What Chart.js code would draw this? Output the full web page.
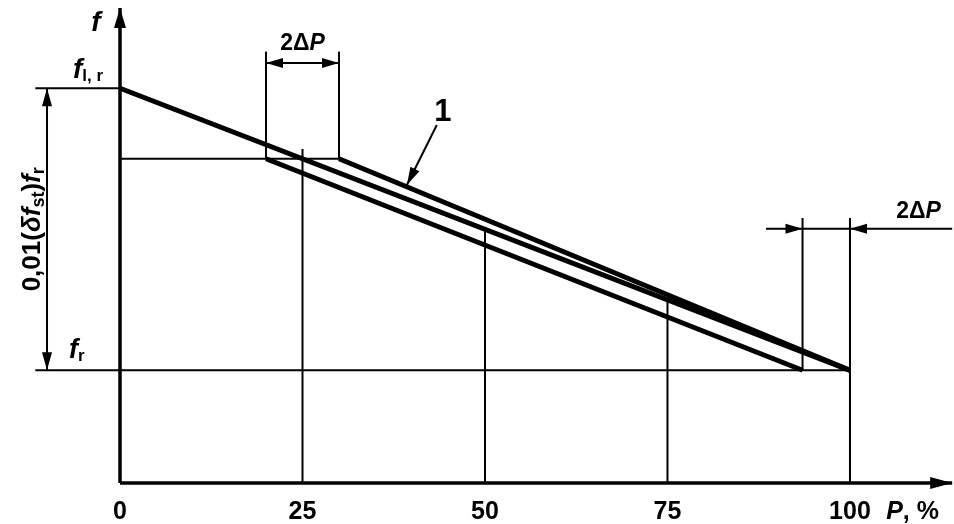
<!DOCTYPE html>
<html>
<head>
<meta charset="utf-8">
<script src="https://cdn.jsdelivr.net/npm/chart.js@4.4.1/dist/chart.umd.min.js"></script>
<style>
  html, body { margin: 0; padding: 0; background: #fff; }
  #wrap { width: 954px; height: 524px; }
</style>
</head>
<body>
<div id="wrap"><canvas id="droopChart" width="954" height="524"></canvas></div>
<script>
// frequency levels on the f axis (arbitrary units)
const fRated = 4;       // f_r
const fNoLoad = 14;     // f_l,r
const fQuarter = 11.5;  // f at 25 % load
const fTop = 16.85;     // end of f axis
const pEnd = 114;       // end of P axis

// P axis ticks
const pTicks = [0, 25, 50, 75, 100];
const pTickLabels = ["0", "25", "50", "75", "100"];

// characteristic lines
const droopP = [0, 100];
const droopF = [fNoLoad, fRated];
const upperP = [30, 100];
const upperF = [fQuarter, fRated];
const lowerP = [20, 93.5];
const lowerF = [fQuarter, fRated];

// vertical guide lines from the P axis up to the characteristic
const guideP = [25, 50, 75, 100];
const guideTopF = [11.85, 9, 6.5, 9.4];

// dimension lines
const leftDimP = -10;
const leftLineStartP = -11.6;
const bandTopP = [20, 30];
const bandTopF = 15.3;
const bandTopArrowF = 14.9;
const bandRightP = [93.5, 100];
const bandRightF = 9.4;
const bandRightArrowF = 9.02;
const bandRightArrowFromP = 88.5;
const leaderFrom = [43.4, 12.7];
const leaderTo = [39.3, 10.57];

const seg = (x1, y1, x2, y2) => [{ x: x1, y: y1 }, { x: x2, y: y2 }];

const thick = [
  seg(droopP[0], droopF[0], droopP[1], droopF[1]),
  seg(upperP[0], upperF[0], upperP[1], upperF[1]),
  seg(lowerP[0], lowerF[0], lowerP[1], lowerF[1])
];
const axes = [
  seg(0, 0, pEnd, 0),
  seg(0, 0, 0, fTop)
];
const thin = [
  seg(0, fQuarter, bandTopP[1], fQuarter),
  seg(leftLineStartP, fRated, 100, fRated),
  seg(leftLineStartP, fNoLoad, 0, fNoLoad),
  seg(leftDimP, fRated, leftDimP, fNoLoad),
  seg(bandTopP[0], fQuarter, bandTopP[0], bandTopF),
  seg(bandTopP[1], fQuarter, bandTopP[1], bandTopF),
  seg(bandTopP[0], bandTopArrowF, bandTopP[1], bandTopArrowF),
  seg(bandRightP[0], fRated, bandRightP[0], bandRightF),
  seg(bandRightArrowFromP, bandRightArrowF, pEnd, bandRightArrowF),
  seg(leaderFrom[0], leaderFrom[1], leaderTo[0], leaderTo[1]),
  ...guideP.map((p, i) => seg(p, 0, p, guideTopF[i]))
];

const mk = (data, w) => ({
  data, showLine: true, borderColor: "#000", borderWidth: w,
  pointRadius: 0, fill: false, clip: false, borderCapStyle: "butt"
});

// arrowheads: tip, tail (direction), length, half width
const arrows = [
  { tip: [0, fTop], from: [0, 0], len: 20, hw: 6 },
  { tip: [pEnd, 0], from: [0, 0], len: 22, hw: 6 },
  { tip: [leftDimP, fNoLoad], from: [leftDimP, fRated], len: 18, hw: 5 },
  { tip: [leftDimP, fRated], from: [leftDimP, fNoLoad], len: 18, hw: 5 },
  { tip: [bandTopP[0], bandTopArrowF], from: [bandTopP[1], bandTopArrowF], len: 17, hw: 5 },
  { tip: [bandTopP[1], bandTopArrowF], from: [bandTopP[0], bandTopArrowF], len: 17, hw: 5 },
  { tip: [bandRightP[0], bandRightArrowF], from: [bandRightArrowFromP, bandRightArrowF], len: 17, hw: 5 },
  { tip: [bandRightP[1], bandRightArrowF], from: [pEnd, bandRightArrowF], len: 17, hw: 5 },
  { tip: leaderTo, from: leaderFrom, len: 18, hw: 5 }
];

const FONT = '"Liberation Sans", Arial, sans-serif';

function drawRuns(ctx, runs, x, y, align) {
  let total = 0;
  runs.forEach(r => {
    ctx.font = (r.it ? "italic " : "") + "bold " + r.size + "px " + FONT;
    r.w = ctx.measureText(r.t).width;
    total += r.w;
  });
  let cx = align === "center" ? x - total / 2 : x;
  runs.forEach(r => {
    ctx.font = (r.it ? "italic " : "") + "bold " + r.size + "px " + FONT;
    ctx.fillText(r.t, cx, y + (r.dy || 0));
    cx += r.w;
  });
}

const marksPlugin = {
  id: "marks",
  afterDatasetsDraw(chart) {
    const { ctx, scales: { x, y } } = chart;
    const px = v => x.getPixelForValue(v);
    const py = v => y.getPixelForValue(v);
    ctx.save();
    ctx.fillStyle = "#000";

    arrows.forEach(a => {
      const tx = px(a.tip[0]), ty = py(a.tip[1]);
      const fx = px(a.from[0]), fy = py(a.from[1]);
      const d = Math.hypot(tx - fx, ty - fy);
      const ux = (tx - fx) / d, uy = (ty - fy) / d;
      const bx = tx - ux * a.len, by = ty - uy * a.len;
      ctx.beginPath();
      ctx.moveTo(tx, ty);
      ctx.lineTo(bx - uy * a.hw, by + ux * a.hw);
      ctx.lineTo(bx + uy * a.hw, by - ux * a.hw);
      ctx.closePath();
      ctx.fill();
    });

    ctx.textBaseline = "alphabetic";
    ctx.textAlign = "left";
    // P tick labels
    pTicks.forEach((p, i) => {
      drawRuns(ctx, [{ t: pTickLabels[i], size: 25 }], px(p), 519, "center");
    });
    drawRuns(ctx, [{ t: "P", size: 25, it: true }, { t: ", %", size: 25 }], px(pEnd) - 66, 519, "left");

    // f axis label
    drawRuns(ctx, [{ t: "f", size: 28, it: true }], px(0) - 24, py(fTop) + 23, "center");
    // f_l,r and f_r
    drawRuns(ctx, [{ t: "f", size: 28, it: true }, { t: "l, r", size: 17, dy: 3 }],
      px(leftDimP) + 26, py(fNoLoad) - 10, "left");
    drawRuns(ctx, [{ t: "f", size: 27, it: true }, { t: "r", size: 17, dy: 3 }],
      px(leftDimP) + 22, py(fRated) - 12, "left");

    // 2ΔP labels
    drawRuns(ctx, [{ t: "2Δ", size: 23 }, { t: "P", size: 23, it: true }],
      (px(bandTopP[0]) + px(bandTopP[1])) / 2, py(bandTopArrowF) - 13, "center");
    drawRuns(ctx, [{ t: "2Δ", size: 23 }, { t: "P", size: 23, it: true }],
      px(pEnd) - 56, py(bandRightArrowF) - 11, "left");

    // curve label 1
    drawRuns(ctx, [{ t: "1", size: 31 }], px(leaderFrom[0]) + 6, py(leaderFrom[1]) - 4, "center");

    // rotated dimension text
    ctx.save();
    ctx.translate(px(leftDimP) - 16, (py(fRated) + py(fNoLoad)) / 2);
    ctx.rotate(-Math.PI / 2);
    drawRuns(ctx, [
      { t: "0,01(", size: 26 },
      { t: "δ", size: 26, it: true },
      { t: "f", size: 26, it: true },
      { t: "st", size: 18, dy: 4 },
      { t: ")", size: 26 },
      { t: "f", size: 26, it: true },
      { t: "r", size: 18, dy: 4 }
    ], 0, 9, "center");
    ctx.restore();

    ctx.restore();
  }
};

new Chart(document.getElementById("droopChart").getContext("2d"), {
  type: "scatter",
  data: {
    datasets: [
      ...thick.map(d => mk(d, 5)),
      ...axes.map(d => mk(d, 3.5)),
      ...thin.map(d => mk(d, 2))
    ]
  },
  options: {
    responsive: false,
    animation: false,
    layout: { padding: 0 },
    scales: {
      x: { type: "linear", display: false, min: -16.44, max: 114.25 },
      y: { type: "linear", display: false, min: -1.45, max: 17.13 }
    },
    plugins: {
      legend: { display: false },
      tooltip: { enabled: false }
    }
  },
  plugins: [marksPlugin]
});
</script>
</body>
</html>
